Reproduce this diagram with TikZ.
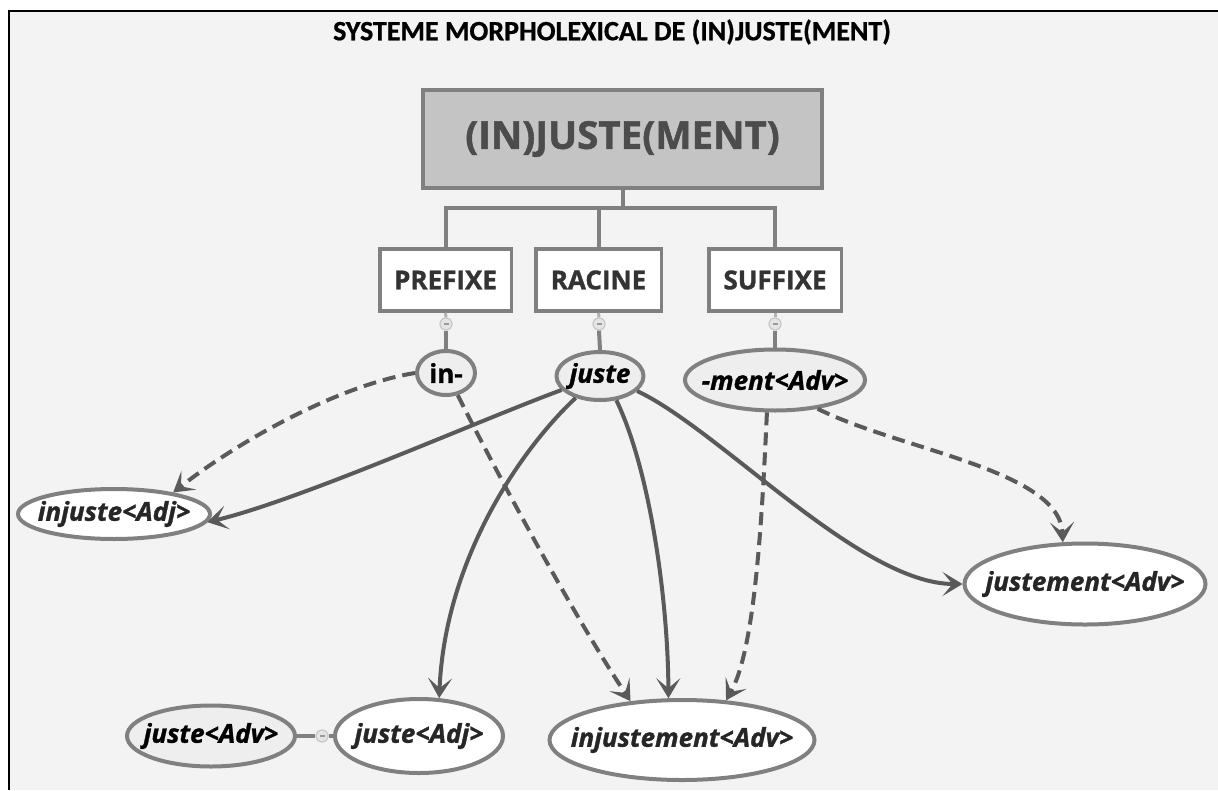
\documentclass[tikz,border=0pt]{standalone}
\usepackage{fontspec}
\setmainfont{Open Sans}[BoldFeatures={FakeBold=1.2},BoldItalicFeatures={FakeBold=1.2}]
\newfontfamily\titlefont{Carlito}[BoldFeatures={FakeBold=0.8}]
\usetikzlibrary{shapes.geometric,arrows.meta}
\definecolor{bg}{HTML}{F3F3F3}
\definecolor{bordergray}{HTML}{808080}
\definecolor{arrowgray}{HTML}{5A5A5A}
\definecolor{boxfill}{HTML}{C4C4C4}
\definecolor{morphfill}{HTML}{EEEEEE}
\begin{document}
\begin{tikzpicture}[x=1pt,y=-1pt,
  rootbox/.style={draw=bordergray,line width=4pt,fill=boxfill,minimum width=399pt,minimum height=98pt,inner sep=0pt,font=\bfseries\fontsize{38.5}{38.5}\selectfont,text=black!70},
  catbox/.style={draw=bordergray,line width=3.5pt,fill=white,minimum height=62pt,inner sep=0pt,font=\bfseries\fontsize{26}{26}\selectfont,text=black!80},
  ell/.style={ellipse,draw=bordergray,line width=4pt,inner xsep=-30pt,inner ysep=-10pt,font=\bfseries\itshape\fontsize{26}{26}\selectfont},
  morphell/.style={ell,fill=morphfill,text=black},
  wordell/.style={ell,fill=white,text=black!85},
  tree/.style={draw=bordergray,line width=4pt},
  toggle/.style={circle,draw=black!22,fill=black!10,line width=1.2pt,minimum size=12pt,inner sep=0pt,
    path picture={\draw[black!40,line width=1.2pt] ([xshift=-2.5pt]path picture bounding box.center) -- ([xshift=2.5pt]path picture bounding box.center);}},
  derive/.style={draw=arrowgray,line width=4pt,-{Stealth[length=20pt,width=24pt,inset=10pt]}},
  dashderive/.style={derive,dash pattern=on 13pt off 7pt}
]
\useasboundingbox (0,0) rectangle (1218,790);
\fill[bg] (8,10) rectangle (1218,790);
\draw[black,line width=2.5pt] (9,790) -- (9,11) -- (1218,11);

\node[font=\titlefont\bfseries\fontsize{28}{28}\selectfont] (title) at (612,32) {SYSTEME MORPHOLEXICAL DE (IN)JUSTE(MENT)};

\node[rootbox] (root) at (622.5,139) {(IN)JUSTE(MENT)};
\node[catbox,minimum width=131.5pt] (prefixe) at (445.5,280) {PREFIXE};
\node[catbox,minimum width=125.5pt] (racine) at (598.5,280) {RACINE};
\node[catbox,minimum width=132.5pt] (suffixe) at (775,280) {SUFFIXE};

\draw[tree] (root.south) -- ++(0,18) coordinate (hub);
\draw[tree] (hub) -| (prefixe.north);
\draw[tree] (hub) -| (racine.north);
\draw[tree] (hub) -| (suffixe.north);

\node[morphell,minimum width=58pt,minimum height=44pt] (in) at (446,373) {\upshape in-};
\node[morphell,minimum width=87pt,minimum height=48pt] (juste) at (600,376) {juste};
\node[morphell,minimum width=180pt,minimum height=61pt] (ment) at (775,380) {-ment<Adv>};

\node[toggle] (t1) at (446,324) {};
\node[toggle] (t2) at (599,324) {};
\node[toggle] (t3) at (775,324) {};
\draw[tree,line width=3pt,draw=black!30] (prefixe.south) -- (t1.north);
\draw[tree,line width=3pt,draw=black!30] (racine.south) -- (t2.north);
\draw[tree,line width=3pt,draw=black!30] (suffixe.south) -- (t3.north);
\draw[tree] (t1.south) -- (in.north);
\draw[tree] (t2.south) -- (juste.north);
\draw[tree] (t3.south) -- (ment.north);

\node[wordell,minimum width=192pt,minimum height=50pt] (injA) at (114,514) {injuste<Adj>};
\node[wordell,minimum width=241pt,minimum height=81pt] (jAdv) at (1085,584) {justement<Adv>};
\node[morphell,minimum width=168pt,minimum height=61pt] (justeAdv) at (211,736) {juste<Adv>};
\node[wordell,minimum width=168pt,minimum height=74pt] (justeAdj) at (419,736) {juste<Adj>};
\node[wordell,minimum width=265pt,minimum height=80pt] (injM) at (682,740) {injustement<Adv>};

\node[toggle] (t4) at (322,736) {};
\draw[tree] (justeAdv.east) -- (t4.west);
\draw[tree] (t4.east) -- (justeAdj.west);

\draw[dashderive] (in.west) .. controls (340,385) and (240,440) .. (injA.20);
\draw[derive] (juste.200) .. controls (480,420) and (300,500) .. (injA.-5);
\draw[dashderive] (in.-62) .. controls (490,460) and (570,610) .. (injM.143);
\draw[derive] (juste.222) .. controls (520,450) and (445,560) .. (justeAdj.62);
\draw[derive] (juste.-56) .. controls (650,470) and (668,600) .. (injM.108);
\draw[derive] (juste.-22) .. controls (720,430) and (860,584) .. (jAdv.west);
\draw[dashderive] (ment.256) .. controls (762,520) and (755,650) .. (injM.42);
\draw[dashderive] (ment.-34) .. controls (900,450) and (1060,470) .. (jAdv.118);
\end{tikzpicture}
\end{document}
